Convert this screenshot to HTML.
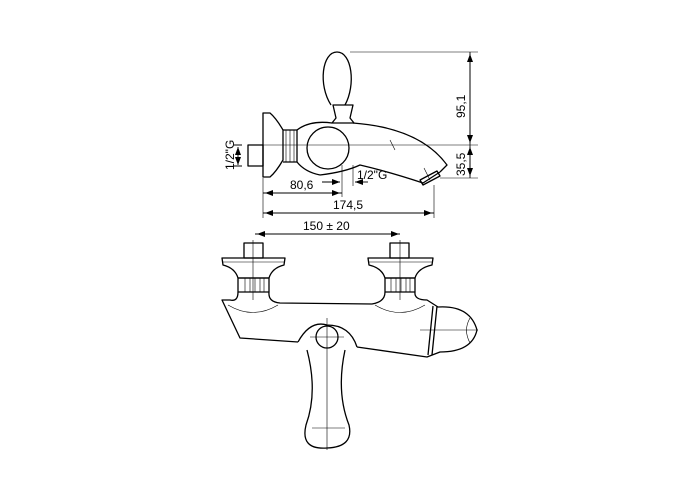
<!DOCTYPE html>
<html><head><style>body{margin:0;background:#fff}svg{display:block}text{font-family:"Liberation Sans",Arial,sans-serif;font-size:12px;fill:#000}</style></head><body>
<svg width="700" height="500" viewBox="0 0 700 500" xmlns="http://www.w3.org/2000/svg">
<defs><marker id="a" markerWidth="8" markerHeight="6" refX="8" refY="3" orient="auto" markerUnits="userSpaceOnUse"><path d="M0,0L8,3L0,6z" fill="#000"/></marker></defs>
<g fill="none" stroke="#000" stroke-width="1.3" stroke-linejoin="round">
<!-- top view -->
<path d="M331,105 C318,85 322,52 337,52 C352,52 356,85 345,105"/>
<path d="M333,105 L353,105 L350,118 L354,123 L332,123 L336,118 Z"/>
<path d="M263,113 L270,113 Q276,118 283,130 L283,160 Q276,172 270,177 L263,177 Z"/>
<rect x="248" y="145" width="15" height="21"/>
<path d="M283,130 L297,130 L297,162 L283,162"/>
<path d="M297,130 Q310,120 332,123"/>
<path d="M297,162 Q305,172 320,175"/>
<ellipse cx="328" cy="148" rx="21" ry="21"/>
<path d="M353,123 Q420,128 447,165 L440,172"/>
<path d="M320,175 Q345,172 360,165 Q390,172 423,183 L440,172"/>
<path d="M420,180 L437,171 L440,176 L423,185 Z"/>
</g>
<g fill="none" stroke="#000" stroke-width="0.6">
<path d="M255,145 L478,145 M350,52 L478,52 M440,178 L478,178 M263,178 L263,218 M434,185 L434,218 M342,165 L342,197 M353,165 L353,186"/>
<path d="M286,130 L286,162 M290,130 L290,162 M294,130 L294,162"/>
<path d="M390,140 L395,150 M424,168 L430,180"/>
</g>
<g stroke="#000" stroke-width="0.9" fill="none">
<path d="M470,145 L470,54" marker-end="url(#a)"/><path d="M470,52 L470,143" marker-end="url(#a)"/>
<path d="M470,145 L470,176" marker-end="url(#a)"/><path d="M470,178 L470,147" marker-end="url(#a)"/>
<path d="M263,193 L340,193" marker-end="url(#a)"/><path d="M342,193 L265,193" marker-end="url(#a)"/>
<path d="M263,213 L432,213" marker-end="url(#a)"/><path d="M434,213 L265,213" marker-end="url(#a)"/>
<path d="M322,182 L340,182" marker-end="url(#a)"/>
<path d="M368,182 L355,182" marker-end="url(#a)"/>
<path d="M238,155 L238,147" marker-end="url(#a)"/><path d="M238,155 L238,165" marker-end="url(#a)"/>
<path d="M234,145 L242,145 M234,166 L242,166"/>
<path d="M255,234 L399,234" marker-end="url(#a)"/><path d="M400,234 L257,234" marker-end="url(#a)"/>
</g>
<text x="290" y="189">80,6</text>
<text x="357" y="179">1/2"G</text>
<text x="333" y="209">174,5</text>
<text x="303" y="230">150 ± 20</text>
<text transform="translate(465,118) rotate(-90)">95,1</text>
<text transform="translate(465,176) rotate(-90)">35,5</text>
<text transform="translate(234,170) rotate(-90)">1/2"G</text>
<!-- bottom view -->
<g fill="none" stroke="#000" stroke-width="1.3" stroke-linejoin="round">
<rect x="244" y="243" width="19" height="15"/>
<rect x="390" y="243" width="19" height="15"/>
<path d="M222,258 L285,258 L284,265 Q272,268 269,278 L238,278 Q235,268 223,265 Z"/>
<path d="M368,258 L433,258 L432,265 Q418,268 415,278 L385,278 Q382,268 369,265 Z"/>
<rect x="238" y="278" width="31" height="14"/>
<rect x="385" y="278" width="30" height="14"/>
<path d="M238,292 Q238,302 230,300 L222,300 L240,338 L298,342"/>
<path d="M269,292 Q268,302 280,303 L372,304 Q385,302 385,292"/>
<path d="M415,292 Q414,300 427,300 L438,307 Q470,305 477,330 Q472,352 440,352 L427,357 L357,347"/>
<path d="M433,306 L428,355 M437,306 L432,355"/>
<path d="M298,342 Q310,320 327,325 Q350,325 357,347"/>
<path d="M307,350 Q318,392 306,425 Q300,450 327,448 Q354,447 349,425 Q336,392 345,350"/>
<circle cx="327" cy="337" r="11"/>
</g>
<g fill="none" stroke="#000" stroke-width="0.6">
<path d="M253,240 L253,300 M400,240 L400,300 M222,262 L285,262 M368,262 L433,262"/>
<path d="M245,278 L245,292 M250,278 L250,292 M255,278 L255,292 M260,278 L260,292 M264,278 L264,292"/>
<path d="M391,278 L391,292 M396,278 L396,292 M401,278 L401,292 M406,278 L406,292 M410,278 L410,292"/>
<path d="M228,305 Q253,320 278,305 M375,305 Q400,320 425,305"/>
<path d="M327,318 L327,450 M310,337 L344,337 M312,428 L345,428"/>
<path d="M420,330 L478,330 M470,318 Q463,330 470,343"/>
</g>
</svg>
</body></html>
